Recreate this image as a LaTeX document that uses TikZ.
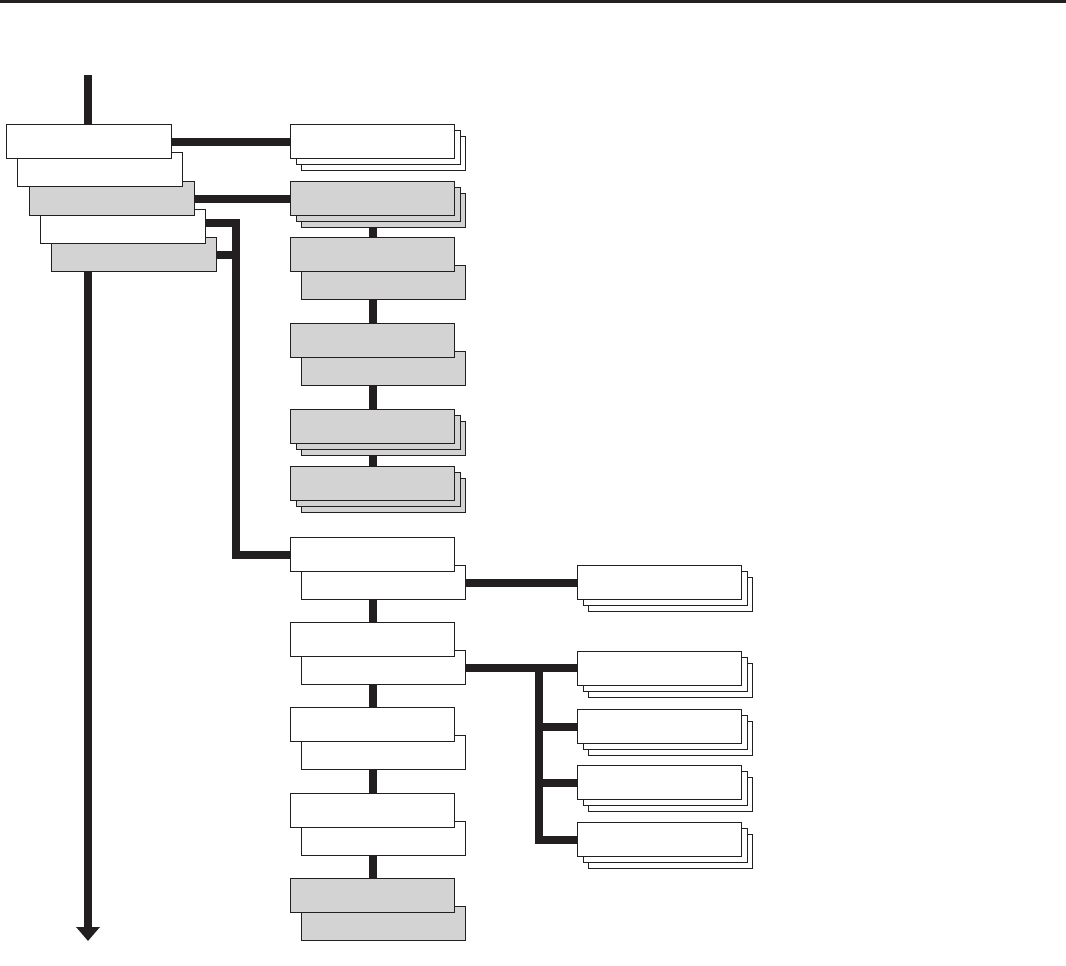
\documentclass[tikz,border=0pt]{standalone}
\usetikzlibrary{arrows.meta,backgrounds}
\definecolor{lc}{HTML}{231F20}
\definecolor{gf}{HTML}{D3D3D3}
\tikzset{
  boxw/.style={draw=lc, fill=white, line width=1.1pt, minimum width=164pt, minimum height=34pt, inner sep=0pt, outer sep=0pt, anchor=north west},
  boxg/.style={boxw, fill=gf},
  conn/.style={draw=lc, line width=8pt},
}
\newcommand{\mystack}[4]{%
  \node[#4] (#1c3) at ({#2+11},{#3+12}) {};
  \node[#4] (#1c2) at ({#2+6},{#3+6}) {};
  \node[#4] (#1) at (#2,#3) {};
}
\newcommand{\mypair}[4]{%
  \node[#4] (#1b) at ({#2+11},{#3+28}) {};
  \node[#4] (#1) at (#2,#3) {};
}
\begin{document}
\begin{tikzpicture}[x=1pt,y=-1pt]
\useasboundingbox (0,0) rectangle (1066,966);
\fill[lc] (0,0) rectangle (1066,3);
% left stack (A on top)
\node[boxg,minimum width=165pt] (E) at (51.5,237.5) {};
\node[boxw,minimum width=165pt] (D) at (40.5,209.5) {};
\node[boxg,minimum width=165pt] (C) at (29.5,181.5) {};
\node[boxw,minimum width=165pt] (B) at (17.5,152.5) {};
\node[boxw,minimum width=165pt] (A) at (6.5,124.5) {};
% middle column
\mystack{S1}{290.5}{124.5}{boxw}
\mystack{S2}{290.5}{181.5}{boxg}
\mypair{P3}{290.5}{237.5}{boxg}
\mypair{P4}{290.5}{323.5}{boxg}
\mystack{S5}{290.5}{409.5}{boxg}
\mystack{S6}{290.5}{466.5}{boxg}
\mypair{P7}{290.5}{537.5}{boxw}
\mypair{P8}{290.5}{622.5}{boxw}
\mypair{P9}{290.5}{707.5}{boxw}
\mypair{P10}{290.5}{793.5}{boxw}
\mypair{P11}{290.5}{878.5}{boxg}
% right column
\mystack{R1}{577.5}{565.5}{boxw}
\mystack{R2}{577.5}{651.5}{boxw}
\mystack{R3}{577.5}{709.5}{boxw}
\mystack{R4}{577.5}{765.5}{boxw}
\mystack{R5}{577.5}{822.5}{boxw}
% connectors
\coordinate (top) at (88,75);
\coordinate (bot) at (88,941);
\coordinate (lbus) at (236,0);
\coordinate (rbus) at (538.5,0);
\begin{scope}[on background layer]
\draw[conn, -{Triangle[width=23pt,length=14pt]}] (top) -- (bot);
\draw[conn] (A.east) -- (S1.west);
\draw[conn] (C.east) -- (C.east -| S2.west);
\draw[conn] ([yshift=3.5pt]D.east) -- ([yshift=3.5pt]D.east -| lbus) |- (P7.west);
\draw[conn] (E.east) -- (E.east -| lbus);
\draw[conn] (S2.center) -- (S6.center);
\draw[conn] (P7.center) -- (P11.center);
\draw[conn] (P7b.east) -- (P7b.east -| R1.west);
\draw[conn] (P8b.east) -- (P8b.east -| R2.west);
\draw[conn] (P8b.east -| rbus) |- (R5.west);
\draw[conn] (R3.west -| rbus) -- (R3.west);
\draw[conn] (R4.west -| rbus) -- (R4.west);
\end{scope}
\end{tikzpicture}
\end{document}
